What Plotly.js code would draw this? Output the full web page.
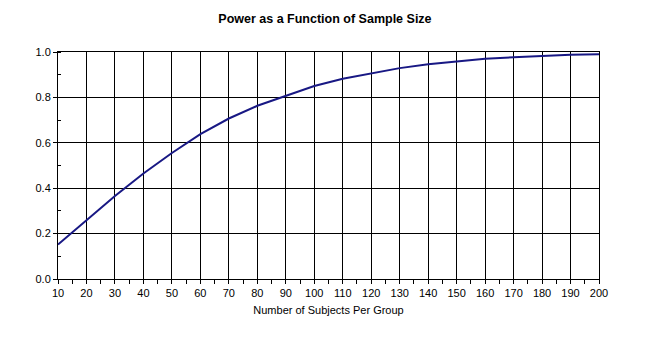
<!DOCTYPE html>
<html>
<head>
<meta charset="utf-8">
<script src="https://cdn.plot.ly/plotly-3.0.1.min.js"></script>
<style>html,body{margin:0;padding:0;background:#fff;}#chart{width:646px;height:354px;}</style>
</head>
<body>
<div id="chart"></div>
<script>
const subjectsPerGroup = [10, 20, 30, 40, 50, 60, 70, 80, 90, 100, 110, 120, 130, 140, 150, 160, 170, 180, 190, 200];
const power = [0.152, 0.259, 0.366, 0.465, 0.555, 0.638, 0.707, 0.763, 0.808, 0.850, 0.882, 0.907, 0.929, 0.946, 0.959, 0.970, 0.977, 0.983, 0.988, 0.990];
const xTickVals = [10, 20, 30, 40, 50, 60, 70, 80, 90, 100, 110, 120, 130, 140, 150, 160, 170, 180, 190, 200];
const yTickVals = [0, 0.2, 0.4, 0.6, 0.8, 1.0];
const yTickText = ['0.0', '0.2', '0.4', '0.6', '0.8', '1.0'];

const trace = {
  x: subjectsPerGroup,
  y: power,
  type: 'scatter',
  mode: 'lines',
  line: {color: 'rgb(24,24,132)', width: 2},
  hoverinfo: 'skip'
};

const font = {family: 'Arial, "Liberation Sans", sans-serif', size: 11, color: '#000'};

const layout = {
  width: 646,
  height: 354,
  margin: {l: 57.5, r: 47.3, t: 52.3, b: 74.7, pad: 0},
  paper_bgcolor: '#fff',
  plot_bgcolor: '#fff',
  showlegend: false,
  font: font,
  title: {
    text: '<b>Power as a Function of Sample Size</b>',
    font: {family: 'Arial, "Liberation Sans", sans-serif', size: 12.5, color: '#000'},
    x: 0.503, xanchor: 'center', y: 0.948, yanchor: 'middle', yref: 'container'
  },
  xaxis: {
    range: [10, 200],
    tickmode: 'array',
    tickvals: xTickVals,
    ticks: 'outside', ticklen: 4, tickwidth: 1, tickcolor: '#000',
    minor: {dtick: 5, tick0: 10, ticks: 'outside', ticklen: 4, tickwidth: 1, tickcolor: '#000', showgrid: false},
    showgrid: true, gridcolor: '#000', gridwidth: 1,
    showline: true, linecolor: '#000', linewidth: 1, mirror: true,
    zeroline: false,
    tickfont: font,
    title: {text: 'Number of Subjects Per Group', font: font, standoff: 8}
  },
  yaxis: {
    range: [0, 1],
    tickmode: 'array',
    tickvals: yTickVals,
    ticktext: yTickText,
    ticks: 'outside', ticklen: 4, tickwidth: 1, tickcolor: '#000',
    minor: {dtick: 0.1, tick0: 0, ticks: 'inside', ticklen: 3, tickwidth: 1, tickcolor: '#000', showgrid: false},
    showgrid: true, gridcolor: '#000', gridwidth: 1,
    showline: true, linecolor: '#000', linewidth: 1, mirror: true,
    zeroline: false,
    tickfont: font
  }
};

Plotly.newPlot('chart', [trace], layout, {staticPlot: true, displayModeBar: false});
</script>
</body>
</html>
